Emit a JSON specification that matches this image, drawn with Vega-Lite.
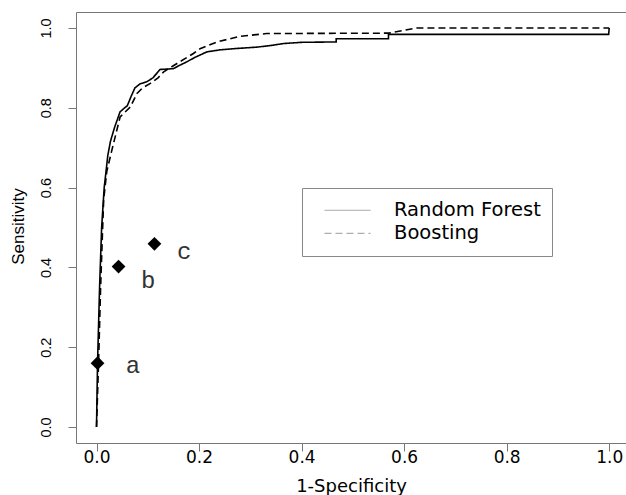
{
  "$schema": "https://vega.github.io/schema/vega-lite/v6.json",
  "width": 550,
  "height": 431,
  "autosize": "none",
  "padding": {"left": 76, "top": 12, "right": 0, "bottom": 52},
  "background": "white",
  "config": {"view": {"stroke": null}},
  "datasets": {
    "roc": [
      {"model": "Random Forest", "i": 1, "fpr": 0.0, "tpr": 0.0},
      {"model": "Random Forest", "i": 2, "fpr": 0.002, "tpr": 0.16},
      {"model": "Random Forest", "i": 3, "fpr": 0.006, "tpr": 0.35},
      {"model": "Random Forest", "i": 4, "fpr": 0.010, "tpr": 0.50},
      {"model": "Random Forest", "i": 5, "fpr": 0.015, "tpr": 0.60},
      {"model": "Random Forest", "i": 6, "fpr": 0.022, "tpr": 0.68},
      {"model": "Random Forest", "i": 7, "fpr": 0.027, "tpr": 0.715},
      {"model": "Random Forest", "i": 8, "fpr": 0.035, "tpr": 0.75},
      {"model": "Random Forest", "i": 9, "fpr": 0.046, "tpr": 0.79},
      {"model": "Random Forest", "i": 10, "fpr": 0.055, "tpr": 0.80},
      {"model": "Random Forest", "i": 11, "fpr": 0.060, "tpr": 0.805},
      {"model": "Random Forest", "i": 12, "fpr": 0.068, "tpr": 0.83},
      {"model": "Random Forest", "i": 13, "fpr": 0.075, "tpr": 0.85},
      {"model": "Random Forest", "i": 14, "fpr": 0.085, "tpr": 0.86},
      {"model": "Random Forest", "i": 15, "fpr": 0.098, "tpr": 0.865},
      {"model": "Random Forest", "i": 16, "fpr": 0.110, "tpr": 0.875},
      {"model": "Random Forest", "i": 17, "fpr": 0.124, "tpr": 0.896},
      {"model": "Random Forest", "i": 18, "fpr": 0.150, "tpr": 0.898},
      {"model": "Random Forest", "i": 19, "fpr": 0.160, "tpr": 0.905},
      {"model": "Random Forest", "i": 20, "fpr": 0.176, "tpr": 0.915},
      {"model": "Random Forest", "i": 21, "fpr": 0.190, "tpr": 0.925},
      {"model": "Random Forest", "i": 22, "fpr": 0.215, "tpr": 0.940},
      {"model": "Random Forest", "i": 23, "fpr": 0.240, "tpr": 0.945},
      {"model": "Random Forest", "i": 24, "fpr": 0.267, "tpr": 0.948},
      {"model": "Random Forest", "i": 25, "fpr": 0.313, "tpr": 0.952},
      {"model": "Random Forest", "i": 26, "fpr": 0.340, "tpr": 0.956},
      {"model": "Random Forest", "i": 27, "fpr": 0.365, "tpr": 0.961},
      {"model": "Random Forest", "i": 28, "fpr": 0.400, "tpr": 0.964},
      {"model": "Random Forest", "i": 29, "fpr": 0.4675, "tpr": 0.965},
      {"model": "Random Forest", "i": 30, "fpr": 0.4675, "tpr": 0.973},
      {"model": "Random Forest", "i": 31, "fpr": 0.5695, "tpr": 0.973},
      {"model": "Random Forest", "i": 32, "fpr": 0.5695, "tpr": 0.984},
      {"model": "Random Forest", "i": 33, "fpr": 0.999, "tpr": 0.984},
      {"model": "Random Forest", "i": 34, "fpr": 1.0, "tpr": 1.0},
      {"model": "Boosting", "i": 1, "fpr": 0.0, "tpr": 0.0},
      {"model": "Boosting", "i": 2, "fpr": 0.004, "tpr": 0.16},
      {"model": "Boosting", "i": 3, "fpr": 0.008, "tpr": 0.35},
      {"model": "Boosting", "i": 4, "fpr": 0.012, "tpr": 0.50},
      {"model": "Boosting", "i": 5, "fpr": 0.014, "tpr": 0.57},
      {"model": "Boosting", "i": 6, "fpr": 0.020, "tpr": 0.64},
      {"model": "Boosting", "i": 7, "fpr": 0.030, "tpr": 0.694},
      {"model": "Boosting", "i": 8, "fpr": 0.046, "tpr": 0.777},
      {"model": "Boosting", "i": 9, "fpr": 0.066, "tpr": 0.802},
      {"model": "Boosting", "i": 10, "fpr": 0.079, "tpr": 0.836},
      {"model": "Boosting", "i": 11, "fpr": 0.090, "tpr": 0.850},
      {"model": "Boosting", "i": 12, "fpr": 0.105, "tpr": 0.861},
      {"model": "Boosting", "i": 13, "fpr": 0.120, "tpr": 0.875},
      {"model": "Boosting", "i": 14, "fpr": 0.131, "tpr": 0.890},
      {"model": "Boosting", "i": 15, "fpr": 0.157, "tpr": 0.911},
      {"model": "Boosting", "i": 16, "fpr": 0.175, "tpr": 0.925},
      {"model": "Boosting", "i": 17, "fpr": 0.189, "tpr": 0.936},
      {"model": "Boosting", "i": 18, "fpr": 0.202, "tpr": 0.948},
      {"model": "Boosting", "i": 19, "fpr": 0.235, "tpr": 0.965},
      {"model": "Boosting", "i": 20, "fpr": 0.280, "tpr": 0.979},
      {"model": "Boosting", "i": 21, "fpr": 0.332, "tpr": 0.986},
      {"model": "Boosting", "i": 22, "fpr": 0.5695, "tpr": 0.987},
      {"model": "Boosting", "i": 23, "fpr": 0.625, "tpr": 1.0},
      {"model": "Boosting", "i": 24, "fpr": 1.0, "tpr": 1.0}
    ],
    "pts": [
      {"label": "a", "fpr": 0.002, "tpr": 0.160, "lx": 0.071, "ly": 0.153},
      {"label": "b", "fpr": 0.043, "tpr": 0.402, "lx": 0.101, "ly": 0.367},
      {"label": "c", "fpr": 0.113, "tpr": 0.459, "lx": 0.171, "ly": 0.439}
    ]
  },
  "resolve": {"axis": {"x": "independent", "y": "independent"}},
  "layer": [
    {
      "data": {"name": "roc"},
      "mark": {"type": "line", "color": "black", "strokeWidth": 1.6, "clip": true},
      "encoding": {
        "x": {
          "field": "fpr", "type": "quantitative",
          "scale": {"domain": [-0.04, 1.0328], "nice": false, "zero": false},
          "axis": {
            "orient": "bottom", "values": [0, 0.2, 0.4, 0.6, 0.8, 1.0], "format": ".1f",
            "grid": false, "domainColor": "#777", "tickColor": "#777", "tickSize": 8,
            "labelFont": "DejaVu Sans", "labelFontSize": 17, "labelColor": "black", "labelPadding": -2,
            "title": "1-Specificity", "titleFont": "DejaVu Sans", "titleFontSize": 18,
            "titleFontWeight": "normal", "titleColor": "black", "titleY": 34, "titleBaseline": "top"
          }
        },
        "y": {
          "field": "tpr", "type": "quantitative",
          "scale": {"domain": [-0.04, 1.04], "nice": false, "zero": false},
          "axis": {
            "orient": "left", "values": [0, 0.2, 0.4, 0.6, 0.8, 1.0], "format": ".1f",
            "grid": false, "domainColor": "#777", "tickColor": "#777", "tickSize": 8,
            "labelFont": "Liberation Sans", "labelFontSize": 14.5, "labelColor": "black",
            "labelAngle": 270, "labelPadding": 15,
            "title": "Sensitivity", "titleFont": "Liberation Sans", "titleFontSize": 17,
            "titleFontWeight": "normal", "titleColor": "black", "titleX": -58, "titleY": 214,
            "titleBaseline": "middle", "titleAngle": 270
          }
        },
        "strokeDash": {
          "field": "model", "type": "nominal",
          "scale": {"domain": ["Random Forest", "Boosting"], "range": [[1, 0], [7, 4]]},
          "legend": {
            "orient": "none", "legendX": 226, "legendY": 176, "title": null,
            "strokeColor": "#888", "fillColor": "white", "padding": 11,
            "symbolType": "stroke", "symbolSize": 2116, "symbolStrokeWidth": 1,
            "symbolStrokeColor": "#999", "symbolOffset": 11,
            "labelFont": "DejaVu Sans", "labelFontSize": 19.5, "labelColor": "black",
            "labelOffset": 23, "rowPadding": 0, "clipHeight": 22.6,
            "encode": {"symbols": {"update": {"strokeDash": {"signal": "datum.value === 'Boosting' ? [3, 2] : [1, 0]"}}}}
          }
        },
        "detail": {"field": "model"},
        "order": {"field": "i", "type": "quantitative"}
      }
    },
    {
      "data": {"name": "roc"},
      "mark": {"type": "rule", "opacity": 0},
      "encoding": {
        "x": {"aggregate": "min", "field": "fpr", "type": "quantitative",
          "axis": {"orient": "top", "labels": false, "ticks": false, "title": null, "grid": false, "domainColor": "#777"}},
        "y": {"aggregate": "min", "field": "tpr", "type": "quantitative", "axis": null}
      }
    },
    {
      "data": {"name": "pts"},
      "mark": {"type": "point", "shape": "diamond", "filled": true, "color": "black", "size": 190, "opacity": 1},
      "encoding": {
        "x": {"field": "fpr", "type": "quantitative", "axis": null},
        "y": {"field": "tpr", "type": "quantitative", "axis": null}
      }
    },
    {
      "data": {"name": "pts"},
      "mark": {"type": "text", "font": "Liberation Mono", "fontSize": 24, "color": "#333"},
      "encoding": {
        "x": {"field": "lx", "type": "quantitative", "axis": null},
        "y": {"field": "ly", "type": "quantitative", "axis": null},
        "text": {"field": "label"}
      }
    }
  ]
}
